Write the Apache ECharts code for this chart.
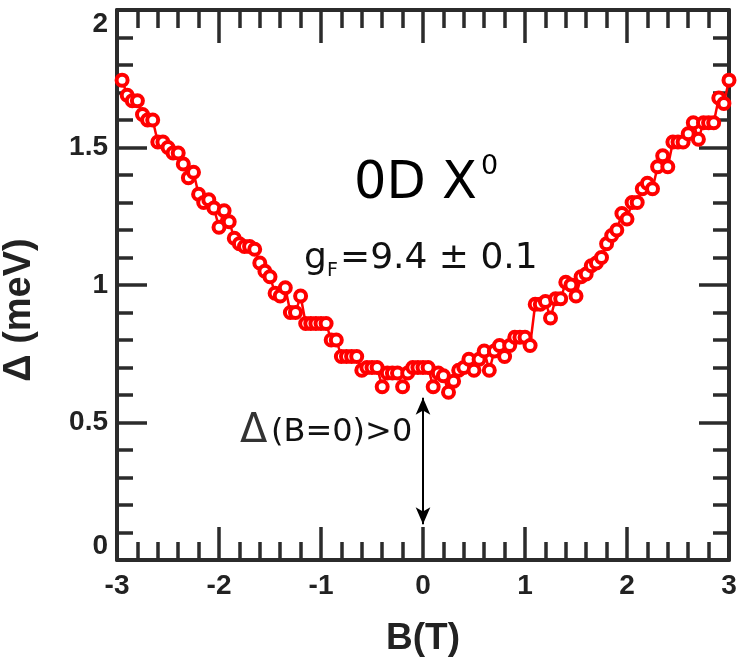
<!DOCTYPE html>
<html>
<head>
<meta charset="utf-8">
<script src="https://cdn.jsdelivr.net/npm/echarts@6/dist/echarts.min.js"></script>
<style>
html,body{margin:0;padding:0;background:#fff;}
#chart{width:738px;height:664px;}
</style>
</head>
<body>
<div id="chart"></div>
<script>
// Magnetic field (T)
const fieldB = [
 -2.95,-2.90,-2.85,-2.80,-2.75,-2.70,-2.65,-2.60,-2.55,-2.50,
 -2.45,-2.40,-2.35,-2.30,-2.25,-2.20,-2.15,-2.10,-2.05,-2.00,
 -1.95,-1.90,-1.85,-1.80,-1.75,-1.70,-1.65,-1.60,-1.55,-1.50,
 -1.45,-1.40,-1.35,-1.30,-1.25,-1.20,-1.15,-1.10,-1.05,-1.00,
 -0.95,-0.90,-0.85,-0.80,-0.75,-0.70,-0.65,-0.60,-0.55,-0.50,
 -0.45,-0.40,-0.35,-0.30,-0.25,-0.20,-0.15,-0.10,-0.05,0.00,
 0.05,0.10,0.15,0.20,0.25,0.30,0.35,0.40,0.45,0.50,
 0.55,0.60,0.65,0.70,0.75,0.80,0.85,0.90,0.95,1.00,
 1.05,1.10,1.15,1.20,1.25,1.30,1.35,1.40,1.45,1.50,
 1.55,1.60,1.65,1.70,1.75,1.80,1.85,1.90,1.95,2.00,
 2.05,2.10,2.15,2.20,2.25,2.30,2.35,2.40,2.45,2.50,
 2.55,2.60,2.65,2.70,2.75,2.80,2.85,2.90,2.95,3.00
];
// Splitting Delta (meV)
const deltaMeV = [
 1.745,1.69,1.67,1.67,1.62,1.60,1.60,1.52,1.52,1.50,
 1.48,1.48,1.44,1.39,1.41,1.33,1.30,1.31,1.28,1.21,
 1.27,1.23,1.17,1.15,1.14,1.14,1.13,1.08,1.05,1.03,
 0.97,0.96,0.99,0.90,0.90,0.96,0.86,0.86,0.86,0.86,
 0.86,0.80,0.80,0.74,0.74,0.74,0.74,0.69,0.70,0.70,
 0.70,0.63,0.68,0.68,0.68,0.63,0.68,0.70,0.70,0.70,
 0.70,0.63,0.68,0.67,0.61,0.65,0.69,0.70,0.73,0.69,
 0.73,0.76,0.69,0.76,0.78,0.74,0.78,0.81,0.81,0.81,
 0.78,0.93,0.93,0.94,0.88,0.95,0.95,1.01,1.00,0.96,
 1.03,1.04,1.07,1.08,1.10,1.15,1.18,1.20,1.26,1.24,
 1.30,1.30,1.35,1.37,1.35,1.43,1.47,1.43,1.52,1.52,
 1.52,1.55,1.59,1.53,1.59,1.59,1.59,1.68,1.66,1.745
];
const xTicks = [-3,-2,-1,0,1,2,3];
const yTicks = [0,0.5,1,1.5,2];
const arrowB = [0, 0];
const arrowD = [0.59, 0.13];

const seriesData = fieldB.map((b,i)=>[b, deltaMeV[i]]);
const axisColor = '#2b2b2b';
const labelFont = {fontFamily:'"Liberation Sans Narrow", "Liberation Sans", Arial, sans-serif', fontWeight:'bold', fontSize:28, color:'#222'};

function xAxisCfg(pos, showLabel){
  return {
    type:'value', position:pos, min:xTicks[0], max:xTicks[xTicks.length-1], interval:1,
    axisLine:{show:true, onZero:false, lineStyle:{color:axisColor, width:4}},
    axisTick:{show:true, inside:true, length:33, lineStyle:{color:axisColor, width:3.5}},
    minorTick:{show:true, splitNumber:5, length:18, lineStyle:{color:axisColor, width:3.5}},
    splitLine:{show:false},
    axisLabel:Object.assign({show:showLabel, margin:12}, labelFont),
    name: showLabel ? 'B(T)' : '',
    nameLocation:'middle', nameGap:60,
    nameTextStyle:{fontFamily:'"Liberation Sans", Arial, sans-serif', fontWeight:'bold', fontSize:37, color:'#222'}
  };
}
function yAxisCfg(pos, showLabel){
  return {
    type:'value', position:pos, min:yTicks[0], max:yTicks[yTicks.length-1], interval:0.5,
    axisLine:{show:true, onZero:false, lineStyle:{color:axisColor, width:4}},
    axisTick:{show:true, inside:true, length:30, lineStyle:{color:axisColor, width:3.5}},
    minorTick:{show:true, splitNumber:5, length:16, lineStyle:{color:axisColor, width:3.5}},
    splitLine:{show:false},
    axisLabel:Object.assign({show:showLabel, margin:9, verticalAlignMinLabel:'bottom', verticalAlignMaxLabel:'top'}, labelFont),
    name: showLabel ? 'Δ (meV)' : '',
    nameLocation:'middle', nameGap:78, nameRotate:90,
    nameTextStyle:{fontFamily:'"Liberation Sans", Arial, sans-serif', fontWeight:'bold', fontSize:38, color:'#222', padding:[0,50,0,0]}
  };
}

const chart = echarts.init(document.getElementById('chart'), null, {renderer:'canvas'});
chart.setOption({
  animation:false,
  backgroundColor:'#fff',
  grid:{left:117, right:9, top:10, bottom:104, containLabel:false, outerBoundsMode:'none'},
  xAxis:[xAxisCfg('bottom', true), xAxisCfg('top', false)],
  yAxis:[yAxisCfg('left', true), yAxisCfg('right', false)],
  series:[{
    type:'line', xAxisIndex:0, yAxisIndex:0,
    data:seriesData,
    symbol:'circle', symbolSize:11, showAllSymbol:true,
    lineStyle:{color:'#ff0000', width:2.5},
    itemStyle:{color:'#ffffff', borderColor:'#ff0000', borderWidth:4},
    z:3,
    markLine:{
      silent:true, animation:false,
      symbol:['arrow','arrow'], symbolSize:[11,17],
      lineStyle:{color:'#000', width:2, type:'solid'},
      label:{show:false},
      data:[[{coord:[arrowB[0], arrowD[0]]},{coord:[arrowB[1], arrowD[1]]}]]
    }
  }],
  graphic:[
    {type:'text', left:354, top:159, style:{text:'0D X', font:'51px "DejaVu Sans"', fill:'#000'}},
    {type:'text', left:481, top:153, style:{text:'0', font:'27px "DejaVu Sans"', fill:'#000'}},
    {type:'text', left:304, top:241, style:{text:'g', font:'36px "DejaVu Sans"', fill:'#111'}},
    {type:'text', left:327, top:262, style:{text:'F', font:'19px "DejaVu Sans"', fill:'#111'}},
    {type:'text', left:340, top:241, style:{text:'=9.4 ± 0.1', font:'36px "DejaVu Sans"', fill:'#111'}},
    {type:'text', left:240, top:412, style:{text:'Δ', font:'40px "DejaVu Sans"', fill:'#333'}},
    {type:'text', left:271, top:417, style:{text:'(B=0)>0', font:'32px "DejaVu Sans"', fill:'#111'}}
  ]
});
</script>
</body>
</html>
